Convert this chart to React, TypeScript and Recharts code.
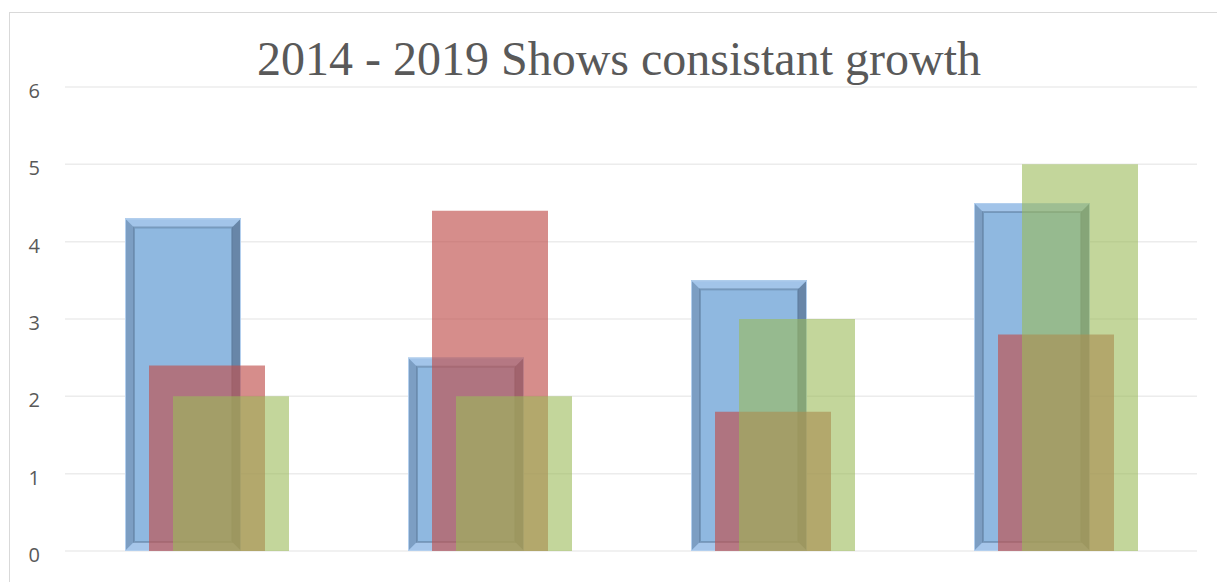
import React from 'react';
import { BarChart, Bar, XAxis, YAxis, CartesianGrid } from 'recharts';

const categories = ['Category 1', 'Category 2', 'Category 3', 'Category 4'];
const seriesBlue = [4.3, 2.5, 3.5, 4.5];
const seriesRed = [2.4, 4.4, 1.8, 2.8];
const seriesGreen = [2, 2, 3, 5];
const yTicks = [0, 1, 2, 3, 4, 5, 6];

const chartData = categories.map((name, i) => ({
  name,
  blue: seriesBlue[i],
  red: seriesRed[i],
  green: seriesGreen[i],
}));

// blue bars have the Excel-style bevel frame
function BevelBar(props: any) {
  const { x, y, width: w, height: h } = props;
  if (!w || !h || h <= 0) return null;
  const b = Math.min(9, w / 2, h / 2);
  return (
    <g>
      <rect x={x} y={y} width={w} height={h} fill="#8fb8e0" />
      <polygon
        points={`${x},${y} ${x + w},${y} ${x + w - b},${y + b} ${x + b},${y + b}`}
        fill="#a2c4e9"
      />
      <polygon
        points={`${x},${y} ${x + b},${y + b} ${x + b},${y + h - b} ${x},${y + h}`}
        fill="#7c9ec3"
      />
      <polygon
        points={`${x + w},${y} ${x + w},${y + h} ${x + w - b},${y + h - b} ${x + w - b},${y + b}`}
        fill="#6886a8"
      />
      <polygon
        points={`${x},${y + h} ${x + b},${y + h - b} ${x + w - b},${y + h - b} ${x + w},${y + h}`}
        fill="#a6c6ea"
      />
      <rect
        x={x + b}
        y={y + b}
        width={w - 2 * b}
        height={h - 2 * b}
        fill="none"
        stroke="#5d7b9c"
        strokeOpacity={0.55}
        strokeWidth={2}
      />
      <rect x={x + 0.5} y={y + 0.5} width={w - 1} height={h - 1} fill="none" stroke="#b3cfee" strokeWidth={1} />
    </g>
  );
}

export default function App() {
  return (
    <div
      style={{
        position: 'absolute',
        left: 9,
        top: 12,
        width: 1207,
        height: 600,
        borderTop: '1px solid #d9d9d9',
        borderLeft: '1px solid #d9d9d9',
        background: '#ffffff',
      }}
    >
      <div
        style={{
          position: 'absolute',
          left: 109,
          top: 22,
          width: 1000,
          textAlign: 'center',
          fontFamily: '"Liberation Serif", serif',
          fontSize: 48,
          lineHeight: '48px',
          color: '#595959',
          whiteSpace: 'nowrap',
        }}
      >
        2014 - 2019 Shows consistant growth
      </div>
      <BarChart
        width={1207}
        height={580}
        data={chartData}
        margin={{ top: 74, right: 20, left: 0, bottom: 42 }}
        barGap={-92}
        barSize={116}
      >
        <CartesianGrid vertical={false} stroke="#ececec" strokeWidth={1.5} />
        <XAxis dataKey="name" hide />
        <YAxis
          width={55}
          domain={[0, 6]}
          ticks={yTicks}
          interval={0}
          axisLine={false}
          tickLine={false}
          tickSize={0}
          tickMargin={25}
          tick={{ fontSize: 20, fill: '#595959', fontFamily: '"Open Sans", sans-serif', dy: 4 }}
        />
        <Bar dataKey="blue" shape={<BevelBar />} isAnimationActive={false} />
        <Bar dataKey="red" fill="#c0504d" fillOpacity={0.65} isAnimationActive={false} />
        <Bar dataKey="green" fill="#9bbb59" fillOpacity={0.6} isAnimationActive={false} />
      </BarChart>
    </div>
  );
}
